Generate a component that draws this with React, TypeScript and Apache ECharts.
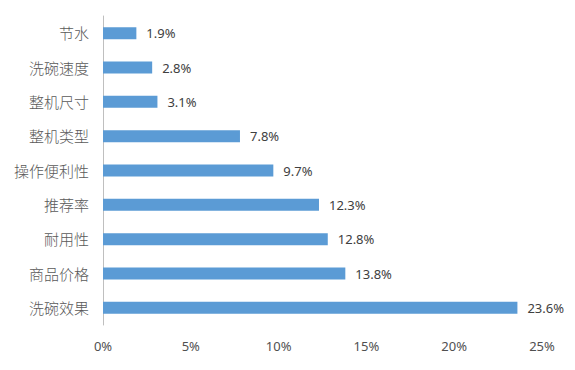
import React, { useEffect, useRef } from "react";
import * as echarts from "echarts";

const categories = ["节水", "洗碗速度", "整机尺寸", "整机类型", "操作便利性", "推荐率", "耐用性", "商品价格", "洗碗效果"];
const values = [1.9, 2.8, 3.1, 7.8, 9.7, 12.3, 12.8, 13.8, 23.6];
const xTicks = [0, 5, 10, 15, 20, 25];

export default function App() {
  const ref = useRef<HTMLDivElement>(null);
  useEffect(() => {
    const chart = echarts.init(ref.current!, undefined, { renderer: "svg" });
    const font = "'Noto Sans', 'Noto Sans CJK SC', sans-serif";
    chart.setOption({
      animation: false,
      grid: { left: 103, right: 33, top: 16, bottom: 45, containLabel: false },
      xAxis: {
        type: "value",
        min: xTicks[0],
        max: xTicks[xTicks.length - 1],
        interval: 5,
        axisLine: { show: false },
        axisTick: { show: false },
        splitLine: { show: false },
        axisLabel: {
          formatter: (v: number) => `${v}%`,
          color: "#505050",
          fontSize: 13,
          fontFamily: font,
          margin: 14,
        },
      },
      yAxis: {
        type: "category",
        data: categories.slice().reverse(),
        axisLine: { show: true, lineStyle: { color: "#bfbfbf", width: 1 } },
        axisTick: { show: false },
        axisLabel: {
          color: "#595959",
          fontSize: 15,
          fontWeight: 300,
          fontFamily: font,
          margin: 14,
        },
      },
      series: [
        {
          type: "bar",
          data: values.slice().reverse(),
          barWidth: 12,
          itemStyle: { color: "#5B9BD5" },
          label: {
            show: true,
            position: "right",
            distance: 10,
            formatter: (p: any) => `${p.value}%`,
            color: "#404040",
            fontSize: 13,
            fontFamily: font,
          },
        },
      ],
    });
    return () => chart.dispose();
  }, []);
  return <div ref={ref} style={{ width: 575, height: 370, position: "absolute", left: 0, top: 0 }} />;
}
